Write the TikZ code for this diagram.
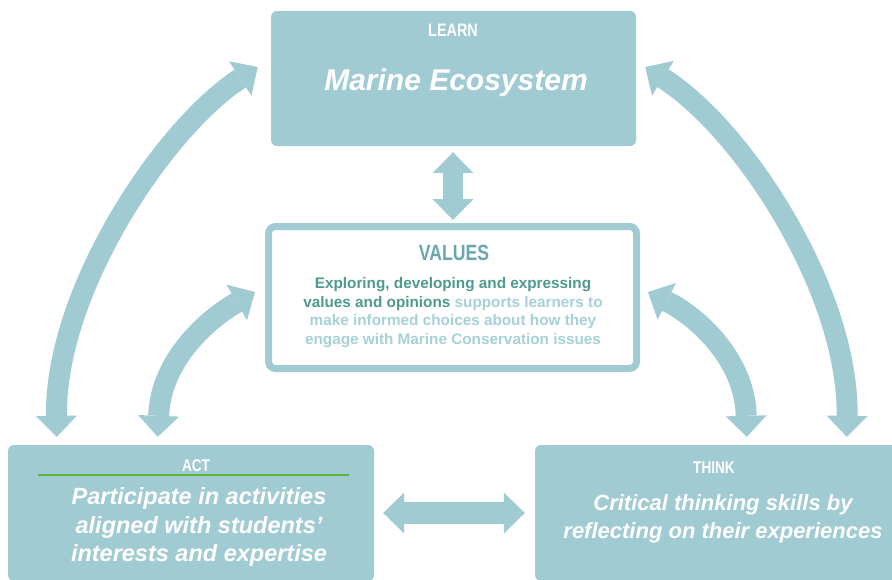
\documentclass[tikz,border=0pt]{standalone}
\usepackage{fontspec}
\setmainfont{Liberation Sans}
\newfontfamily\condfont[FakeStretch=0.8]{Liberation Sans}
\usetikzlibrary{arrows.meta,calc}
\definecolor{tealbox}{HTML}{A0CBD2}
\definecolor{valtitle}{HTML}{6AA6AE}
\definecolor{valdark}{HTML}{4E9A8F}
\definecolor{vallight}{HTML}{A6D1D7}
\definecolor{actgreen}{HTML}{5DB33A}
\tikzset{
  fillbox/.style={draw=none,fill=tealbox,rounded corners=6pt,inner sep=0pt},
  valbox/.style={draw=tealbox,fill=white,line width=7pt,rounded corners=7pt,inner sep=0pt},
  boxtitle/.style={text=white,font={\condfont\bfseries\fontsize{18}{20}\selectfont}},
  bigtext/.style={text=white,align=center,font={\bfseries\itshape\fontsize{#1}{28.5}\selectfont}},
  bigarrow/.style={draw=tealbox,line width=#1,{Triangle[width=41pt,length=21pt,line width=0pt]}-{Triangle[width=41pt,length=21pt,line width=0pt]}},
}
\begin{document}
\begin{tikzpicture}[x=1pt,y=-1pt]
\useasboundingbox (0,0) rectangle (892,579);
\clip (0,0) rectangle (892,579);
\fill[white] (0,0) rectangle (892,579);
% boxes
\node[fillbox,minimum width=365pt,minimum height=135pt] (learn) at (453.5,78.5) {};
\node[valbox,minimum width=368pt,minimum height=142pt] (values) at (452.5,297.5) {};
\node[fillbox,minimum width=366pt,minimum height=136pt] (act) at (191,513) {};
\node[fillbox,minimum width=366pt,minimum height=136pt] (think) at (718,513) {};
% texts
\node[boxtitle] (learntitle) at (453,30) {LEARN};
\node[bigtext=30] (learntext) at (456,83) {Marine Ecosystem};
\node[text=valtitle,font={\condfont\bfseries\fontsize{22}{24}\selectfont}] (valtitle) at (454,253) {VALUES};
\node[align=center,font={\bfseries\fontsize{15.3}{18.7}\selectfont}] (valtext) at (453,312.5)
  {\textcolor{valdark}{Exploring, developing and expressing}\\
   \textcolor{valdark}{values and opinions} \textcolor{vallight}{supports learners to}\\
   \textcolor{vallight}{make informed choices about how they}\\
   \textcolor{vallight}{engage with Marine Conservation issues}};
\node[boxtitle,font={\condfont\bfseries\fontsize{17}{19}\selectfont}] (acttitle) at (196,466) {ACT};
\draw[actgreen,line width=1.2pt] (38,475) coordinate (gl) -- (349,475) coordinate (gr);
\node[bigtext=23.5] (acttext) at (199,527) {Participate in activities\\aligned with students’\\interests and expertise};
\node[boxtitle,font={\condfont\bfseries\fontsize{17}{19}\selectfont}] (thinktitle) at (714,468) {THINK};
\node[bigtext=22,font={\bfseries\itshape\fontsize{22}{28}\selectfont}] (thinktext) at (723,519) {Critical thinking skills by\\reflecting on their experiences};
% straight arrows
\draw[bigarrow=20pt] ([yshift=-6pt]learn.south -| 453,0) -- ([yshift=3pt]values.north -| 453,0);
\draw[bigarrow=22pt] ([xshift=9pt]act.east) -- ([xshift=-10pt]think.west);
% curved arrows
\draw[bigarrow=21pt] ($(act.north west)+(49,-8)$) .. controls +(-2,-145) and +(-95,62) .. ($(learn.west)+(-13,-11.5)$);
\draw[bigarrow=21pt] ($(act.north west)+(150,-8)$) .. controls +(3,-77) and +(-47,27) .. ($(values.west)+(-10,-5.5)$);
\draw[bigarrow=21pt] ($(values.east)+(8,-5.5)$) .. controls +(50,25) and +(-2,-77) .. ($(think.north west)+(212,-8)$);
\draw[bigarrow=21pt] ($(learn.east)+(9,-11.5)$) .. controls +(98,62) and +(2,-145) .. ($(think.north west)+(312,-8)$);
\end{tikzpicture}
\end{document}
